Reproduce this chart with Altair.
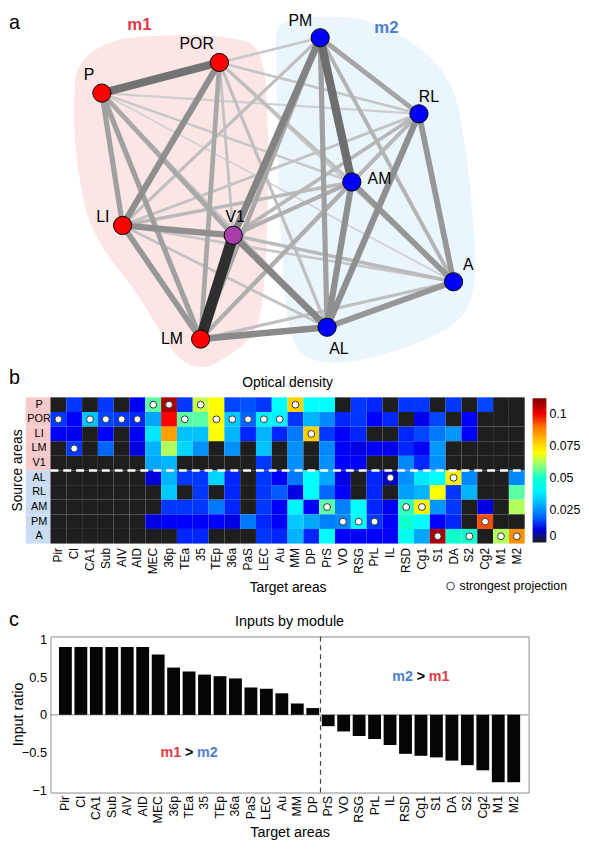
import altair as alt
import pandas as pd

FONT = "Liberation Sans"

# ---------------- panel a : module network ----------------
node_names = ["P", "POR", "LI", "V1", "LM", "PM", "RL", "AM", "A", "AL"]
node_group = ["m1", "m1", "m1", "V1", "m1", "m2", "m2", "m2", "m2", "m2"]
node_x = [102, 221, 123, 235, 202, 323, 423, 355, 458, 330]
node_y = [83, 52, 217, 227, 332, 27, 104, 173, 274, 320]

edge_source = ["P", "P", "P", "P", "P", "P", "P", "P", "P",
               "POR", "POR", "POR", "POR", "POR", "POR", "POR", "POR",
               "LI", "LI", "LI", "LI", "LI", "LI", "LI",
               "V1", "V1", "V1", "V1", "V1", "V1",
               "LM", "LM", "LM", "LM", "LM",
               "PM", "PM", "PM", "PM",
               "RL", "RL", "RL",
               "AM", "AM",
               "A"]
edge_target = ["POR", "LI", "V1", "LM", "PM", "RL", "AM", "A", "AL",
               "LI", "V1", "LM", "PM", "RL", "AM", "A", "AL",
               "V1", "LM", "PM", "RL", "AM", "A", "AL",
               "LM", "PM", "RL", "AM", "A", "AL",
               "PM", "RL", "AM", "A", "AL",
               "RL", "AM", "A", "AL",
               "AM", "A", "AL",
               "A", "AL",
               "AL"]
edge_weight = [0.72, 0.45, 0.40, 0.45, 0.12, 0.15, 0.18, 0.12, 0.20,
               0.55, 0.22, 0.40, 0.18, 0.20, 0.25, 0.18, 0.25,
               0.55, 0.50, 0.25, 0.22, 0.28, 0.20, 0.22,
               1.00, 0.62, 0.30, 0.35, 0.28, 0.60,
               0.40, 0.30, 0.35, 0.25, 0.58,
               0.42, 0.75, 0.32, 0.45,
               0.30, 0.50, 0.55,
               0.50, 0.55,
               0.50]

m1_hull_x = [80, 110, 160, 230, 262, 270, 268, 258, 225, 200, 175, 140, 95, 78, 74]
m1_hull_y = [55, 32, 25, 27, 45, 120, 250, 320, 352, 360, 345, 290, 225, 160, 95]
m2_hull_x = [282, 320, 370, 420, 455, 470, 478, 478, 460, 410, 350, 310, 292, 284, 280, 279]
m2_hull_y = [15, 6, 10, 35, 75, 140, 220, 280, 315, 340, 355, 350, 320, 240, 130, 50]

module_names = ["m1", "m2"]
module_label_x = [140, 390]
module_label_y = [14, 17]

# ---------------- panel b : optical density ----------------
sources = ["P", "POR", "LI", "LM", "V1", "AL", "RL", "AM", "PM", "A"]
source_module = ["m1", "m1", "m1", "m1", "m1", "m2", "m2", "m2", "m2", "m2"]
targets = ["Pir", "Cl", "CA1", "Sub", "AIV", "AID", "MEC", "36p", "TEa", "35",
           "TEp", "36a", "PaS", "LEC", "Au", "MM", "DP", "PrS", "VO", "RSG",
           "PrL", "IL", "RSD", "Cg1", "S1", "DA", "S2", "Cg2", "M1", "M2"]

od_P = [0, .016, 0, .016, 0, .013, .055, .107, .016, .065, .070, .017, .018, .016, .042,
        .077, .042, .042, 0, .016, .015, 0, .016, .016, 0, .016, 0, .017, 0, 0]
od_POR = [.016, .014, .032, .017, .016, .015, .028, .098, .055, .055, .070, .033, .020, .040, .040,
          .016, .030, .024, .015, .016, .014, .015, 0, .012, .017, 0, .014, 0, 0, 0]
od_LI = [.013, .012, 0, .014, 0, .013, .038, .084, .032, .032, .070, .030, .015, .030, .015,
         .022, .077, .016, .014, .015, 0, 0, .015, .017, .022, .026, .014, 0, 0, 0]
od_LM = [0, .016, 0, .020, 0, .011, .030, .063, .035, .025, 0, .025, 0, .032, 0,
         .025, 0, .024, .013, .011, .013, .012, .015, .013, .026, 0, 0, 0, 0, 0]
od_V1 = [0, 0, 0, 0, 0, 0, .028, .030, 0, 0, 0, 0, 0, .016, 0,
         .025, 0, .025, .014, .014, 0, 0, .024, .015, .025, 0, 0, 0, 0, 0]
od_AL = [0, 0, 0, 0, 0, 0, .010, .030, .016, .016, .035, .015, 0, .016, .014,
         .022, .042, .028, .011, 0, .015, .008, .025, .038, .042, .072, .024, 0, 0, .024]
od_RL = [0, 0, 0, 0, 0, 0, 0, .033, 0, .016, 0, .015, 0, .016, .019,
         .011, .042, .020, .014, 0, .015, 0, .027, .030, .070, .016, .030, 0, 0, .055]
od_AM = [0, 0, 0, 0, 0, 0, 0, .016, .016, .016, .022, .015, 0, .016, .014,
         .040, .014, .055, .023, .042, .015, .013, .052, .072, .026, .016, 0, .011, 0, .063]
od_PM = [0, 0, 0, 0, 0, 0, .011, .013, .014, .013, .014, .011, .022, .015, .014,
         .033, .028, .023, .024, .042, .016, .014, .050, .042, .014, .015, 0, .094, 0, 0]
od_A = [0, 0, 0, 0, 0, 0, 0, 0, .015, .015, 0, 0, 0, .016, .015,
        .030, .015, .042, .014, .014, .014, .014, .045, .028, .107, .050, .050, 0, .063, .086]
od_rows = [od_P, od_POR, od_LI, od_LM, od_V1, od_AL, od_RL, od_AM, od_PM, od_A]

strongest_source = ["POR", "LM", "POR", "POR", "POR", "POR", "P", "P", "POR", "P",
                    "POR", "POR", "POR", "POR", "POR", "P", "LI", "AM", "PM", "PM",
                    "PM", "AL", "AM", "AM", "A", "AL", "A", "PM", "A", "A"]
od_ticks = [0, 0.025, 0.05, 0.075, 0.1]

# ---------------- panel c : inputs by module ----------------
input_ratio = [0.90, 0.90, 0.90, 0.90, 0.90, 0.90, 0.80, 0.627, 0.575, 0.534,
               0.513, 0.483, 0.363, 0.346, 0.286, 0.150, 0.090, -0.150, -0.220, -0.280,
               -0.320, -0.400, -0.517, -0.543, -0.564, -0.607, -0.667, -0.735, -0.893, -0.893]
ratio_ticks = [-1, -0.5, 0, 0.5, 1]
first_m2_target = "PrS"

# ================= styles =================
PINK_HULL = "#fce5e5"
BLUE_HULL = "#eaf5fc"
M1_TEXT = "#e23a48"
M2_TEXT = "#4f7fc8"
label_offset = {"P": (-13, -18), "POR": (-23, -19), "LI": (-20, -9), "V1": (2, -19),
                "LM": (-29, 0), "PM": (-20, -17), "RL": (10, -17), "AM": (28, -3),
                "A": (15, -17), "AL": (12, 22)}
H_A, H_B, H_C, GAP = 295, 148, 158, 94
OD_SCALE = alt.Scale(domain=[0, 0.0015, 0.014, 0.042, 0.070, 0.098, 0.112],
                     range=["#1e1e1e", "#00008f", "#0000ff", "#00ffff",
                            "#ffff00", "#ff0000", "#800000"])

# ================= panel a =================
nodes = pd.DataFrame({"name": node_names, "group": node_group, "x": node_x, "y": node_y})
nodes["lx"] = [x + label_offset[n][0] for n, x in zip(node_names, node_x)]
nodes["ly"] = [y + label_offset[n][1] for n, y in zip(node_names, node_y)]
pos = nodes.set_index("name")
edges = pd.DataFrame({"s": edge_source, "t": edge_target, "w": edge_weight})
edges["x1"] = edges["s"].map(pos["x"])
edges["y1"] = edges["s"].map(pos["y"])
edges["x2"] = edges["t"].map(pos["x"])
edges["y2"] = edges["t"].map(pos["y"])
edges = edges.sort_values("w").reset_index(drop=True)

hull_m1 = pd.DataFrame({"x": m1_hull_x, "y": m1_hull_y, "i": range(len(m1_hull_x))})
hull_m2 = pd.DataFrame({"x": m2_hull_x, "y": m2_hull_y, "i": range(len(m2_hull_x))})
mods = pd.DataFrame({"name": module_names, "x": module_label_x, "y": module_label_y})

XA = alt.Scale(domain=[50, 570])
YA = alt.Scale(domain=[2, 2 + H_A], reverse=True)

def hull_layer(df, col):
    return alt.Chart(df).mark_line(interpolate="cardinal-closed", filled=True,
                                   color=col, strokeOpacity=0, opacity=1).encode(
        x=alt.X("x:Q", scale=XA, axis=None),
        y=alt.Y("y:Q", scale=YA, axis=None),
        order="i:Q")

edge_layer = alt.Chart(edges).mark_rule().encode(
    x=alt.X("x1:Q", scale=XA, axis=None), y=alt.Y("y1:Q", scale=YA, axis=None),
    x2="x2:Q", y2="y2:Q",
    strokeWidth=alt.StrokeWidth("w:Q", scale=alt.Scale(domain=[0, 1], range=[0.6, 11]), legend=None),
    stroke=alt.Stroke("w:Q", scale=alt.Scale(domain=[0.1, 0.45, 0.75, 1.0],
                                             range=["#d6d6d6", "#a0a0a0", "#6e6e6e", "#2f2f2f"]),
                      legend=None))

node_layer = alt.Chart(nodes).mark_circle(size=340, stroke="black", strokeWidth=1, opacity=1).encode(
    x=alt.X("x:Q", scale=XA, axis=None), y=alt.Y("y:Q", scale=YA, axis=None),
    fill=alt.Fill("group:N", scale=alt.Scale(domain=["m1", "V1", "m2"],
                                             range=["#ff0000", "#a83ca8", "#0000ff"]), legend=None))

node_text = alt.Chart(nodes).mark_text(fontSize=16, color="black", baseline="middle").encode(
    x=alt.X("lx:Q", scale=XA, axis=None), y=alt.Y("ly:Q", scale=YA, axis=None), text="name:N")

mod_m1 = alt.Chart(mods).transform_filter(alt.datum.name == "m1").mark_text(
    fontSize=17, fontWeight="bold", color=M1_TEXT).encode(
    x=alt.X("x:Q", scale=XA, axis=None), y=alt.Y("y:Q", scale=YA, axis=None), text="name:N")
mod_m2 = alt.Chart(mods).transform_filter(alt.datum.name == "m2").mark_text(
    fontSize=17, fontWeight="bold", color=M2_TEXT).encode(
    x=alt.X("x:Q", scale=XA, axis=None), y=alt.Y("y:Q", scale=YA, axis=None), text="name:N")

def letter(ch, y):
    return alt.Chart(pd.DataFrame({"t": [ch]})).mark_text(
        fontSize=20, align="left", baseline="top" if ch == "a" else "middle", color="black").encode(
        text="t:N", x=alt.value(-42), y=alt.value(y))

panel_a = alt.layer(hull_layer(hull_m1, PINK_HULL), hull_layer(hull_m2, BLUE_HULL),
                    edge_layer, node_layer, node_text, mod_m1, mod_m2,
                    letter("a", 0)).properties(width=520, height=H_A)

# ================= panel b =================
heat = pd.DataFrame([{"source": s, "target": t, "od": v}
                     for s, vals in zip(sources, od_rows) for t, v in zip(targets, vals)])
strong = pd.DataFrame({"target": targets, "source": strongest_source})
strip = pd.DataFrame({"source": sources, "module": source_module})

XB = alt.Scale(domain=targets, paddingInner=0, paddingOuter=0)
YB = alt.Scale(domain=sources, paddingInner=0, paddingOuter=0)
XB_AXIS = alt.Axis(labelAngle=-90, labelFontSize=12, labelPadding=4, ticks=False, tickSize=0,
                   domain=False, title="Target areas", titleFontSize=14,
                   titleFontWeight="normal", titlePadding=7)
YB_AXIS = alt.Axis(labelFontSize=11, labelAlign="center", labelPadding=12, ticks=False,
                   tickSize=0, domain=False, title=None, zindex=2)

strip_layer = alt.Chart(strip).mark_rect().encode(
    y=alt.Y("source:N", scale=YB, axis=YB_AXIS),
    x=alt.value(-25), x2=alt.value(0),
    fill=alt.Fill("module:N", scale=alt.Scale(domain=["m1", "m2"], range=["#f6c9ca", "#c9dcf1"]),
                  legend=None))

heat_layer = alt.Chart(heat).mark_rect().encode(
    x=alt.X("target:N", scale=XB, axis=XB_AXIS),
    y=alt.Y("source:N", scale=YB, axis=YB_AXIS),
    color=alt.Color("od:Q", scale=OD_SCALE,
                    legend=alt.Legend(orient="none", legendX=488, legendY=1,
                                      direction="vertical", gradientLength=146,
                                      gradientThickness=14, values=od_ticks, format=".3~f",
                                      labelFontSize=12.5, labelOffset=3, padding=0,
                                      gradientStrokeWidth=0, title=None)))

divider_b = alt.Chart(pd.DataFrame({"source": ["AL"]})).mark_rule(
    color="white", strokeDash=[8, 5], strokeWidth=2.5).encode(
    y=alt.Y("source:N", scale=YB, bandPosition=0, axis=YB_AXIS),
    x=alt.value(0), x2=alt.value(480))

strong_layer = alt.Chart(strong).mark_circle(color="white", stroke="#333333", strokeWidth=1,
                                             size=48, opacity=1).encode(
    x=alt.X("target:N", scale=XB, axis=XB_AXIS), y=alt.Y("source:N", scale=YB, axis=YB_AXIS))

legend_pt = alt.Chart(pd.DataFrame({"k": ["strongest projection"]})).mark_circle(
    color="white", stroke="#333333", strokeWidth=1, size=60, opacity=1).encode(
    x=alt.value(405), y=alt.value(191))
legend_txt = alt.Chart(pd.DataFrame({"k": ["strongest projection"]})).mark_text(
    fontSize=12.5, align="left", baseline="middle", color="black").encode(
    text="k:N", x=alt.value(414), y=alt.value(191))

title_b = alt.Chart(pd.DataFrame({"t": ["Optical density"]})).mark_text(
    fontSize=14, align="center", baseline="middle", color="black").encode(
    text="t:N", x=alt.value(240), y=alt.value(-14))
src_title = alt.Chart(pd.DataFrame({"t": ["Source areas"]})).mark_text(
    fontSize=14, align="center", baseline="middle", angle=270, color="black").encode(
    text="t:N", x=alt.value(-33), y=alt.value(74))

panel_b = alt.layer(strip_layer, heat_layer, divider_b, strong_layer, legend_pt, legend_txt,
                    title_b, src_title, letter("b", -20)).properties(width=480, height=H_B)

# ================= panel c =================
bars = pd.DataFrame({"target": targets, "ratio": input_ratio})
XC = alt.Scale(domain=targets, paddingInner=0.17, paddingOuter=0.55)
YC = alt.Scale(domain=[-1.03, 1.04], nice=False, zero=False)
XC_AXIS = alt.Axis(labelAngle=-90, labelFontSize=12.5, labelPadding=3, ticks=False,
                   tickSize=0, domain=False, title="Target areas", titleFontSize=14.5,
                   titleFontWeight="normal", titlePadding=3)
YC_AXIS = alt.Axis(values=ratio_ticks, format="~g", labelFontSize=13, labelPadding=4,
                   ticks=False, tickSize=0, domain=False, grid=False, title=None)

bar_layer = alt.Chart(bars).mark_bar(color="#050505").encode(
    x=alt.X("target:N", scale=XC, axis=XC_AXIS),
    y=alt.Y("ratio:Q", scale=YC, axis=YC_AXIS))

zero_line = alt.Chart(pd.DataFrame({"z": [0]})).mark_rule(color="#8c8c8c", strokeWidth=1).encode(
    y=alt.Y("z:Q", scale=YC, axis=YC_AXIS))

divider_c = alt.Chart(pd.DataFrame({"target": [first_m2_target]})).mark_rule(
    color="#444444", strokeDash=[5, 4], strokeWidth=1.2, xOffset=-1.3).encode(
    x=alt.X("target:N", scale=XC, bandPosition=0, axis=XC_AXIS),
    y=alt.value(0), y2=alt.value(H_C))

ann = pd.DataFrame({"target": ["Cg1", "TEa"], "ratio": [0.5, -0.5],
                    "left": ["m2", "m1"], "right": ["m1", "m2"], "mid": [">", ">"]})

def ann_part(field, value, align, dx, col):
    return alt.Chart(ann).transform_filter(alt.datum[field] == value).mark_text(
        fontSize=14.5, fontWeight="bold", align=align, dx=dx, color=col,
        baseline="middle").encode(
        x=alt.X("target:N", scale=XC, axis=XC_AXIS),
        y=alt.Y("ratio:Q", scale=YC, axis=YC_AXIS), text=f"{field}:N")

ann_mid = alt.Chart(ann).mark_text(fontSize=14.5, fontWeight="bold", align="center",
                                    baseline="middle", color="black").encode(
    x=alt.X("target:N", scale=XC, axis=XC_AXIS),
    y=alt.Y("ratio:Q", scale=YC, axis=YC_AXIS), text="mid:N")

title_c = alt.Chart(pd.DataFrame({"t": ["Inputs by module"]})).mark_text(
    fontSize=14.5, align="center", baseline="middle", color="black").encode(
    text="t:N", x=alt.value(242), y=alt.value(-15))
ratio_title = alt.Chart(pd.DataFrame({"t": ["Input ratio"]})).mark_text(
    fontSize=14.5, align="center", baseline="middle", angle=270, color="black").encode(
    text="t:N", x=alt.value(-32), y=alt.value(H_C / 2))

panel_c = alt.layer(zero_line, bar_layer, divider_c,
                    ann_part("left", "m2", "right", -8, M2_TEXT),
                    ann_part("left", "m1", "right", -8, M1_TEXT),
                    ann_mid,
                    ann_part("right", "m1", "left", 8, M1_TEXT),
                    ann_part("right", "m2", "left", 8, M2_TEXT),
                    title_c, ratio_title, letter("c", -17)).properties(
    width=484, height=H_C, view=alt.ViewBackground(stroke="#8a8a8a", strokeWidth=1))

chart = alt.vconcat(panel_a, panel_b, panel_c, spacing=GAP, bounds="flush").resolve_scale(
    fill="independent", color="independent", stroke="independent", strokeWidth="independent"
).properties(
    padding=0
).configure(font=FONT).configure_view(stroke=None).configure_axis(
    labelFont=FONT, titleFont=FONT, labelColor="black", titleColor="black"
).configure_text(font=FONT).configure_legend(labelFont=FONT, labelColor="black")

chart.save("out.html", embed_options={"renderer": "svg", "actions": False})
